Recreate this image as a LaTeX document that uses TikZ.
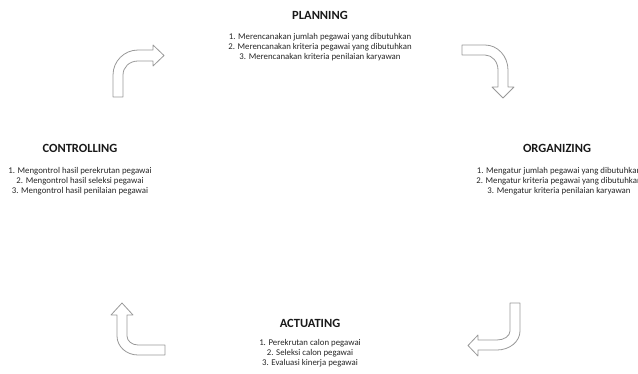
\documentclass[tikz,border=0pt]{standalone}
\usepackage{fontspec}
\setmainfont{Carlito}
\begin{document}
\begin{tikzpicture}[x=1pt,y=-1pt,
  head/.style={font=\fontsize{12.5}{14}\selectfont\bfseries, inner sep=0pt, text=black!90},
  body/.style={font=\fontsize{8.8}{10}\selectfont, align=center, inner sep=0pt, text=black!85},
  bentarrow/.style={draw=black!40, line width=0.8pt, fill=white, line join=round}]
\useasboundingbox (0,0) rectangle (638,373);
% headings and texts
\node[head] (planh) at (320,15) {PLANNING};
\node[body] (planb) at (320,47.5) {1. Merencanakan jumlah pegawai yang dibutuhkan\\2. Merencanakan kriteria pegawai yang dibutuhkan\\3. Merencanakan kriteria penilaian karyawan};
\node[head] (orgh) at (557,148) {ORGANIZING};
\node[body] (orgb) at (559,181) {1. Mengatur jumlah pegawai yang dibutuhkan\\2. Mengatur kriteria pegawai yang dibutuhkan\\3. Mengatur kriteria penilaian karyawan};
\node[head] (acth) at (310,323) {ACTUATING};
\node[body] (actb) at (310,353) {1. Perekrutan calon pegawai\\2. Seleksi calon pegawai\\3. Evaluasi kinerja pegawai};
\node[head] (conh) at (80,148) {CONTROLLING};
\node[body] (conb) at (80,181) {1. Mengontrol hasil perekrutan pegawai\\2. Mengontrol hasil seleksi pegawai\\3. Mengontrol hasil penilaian pegawai};
% arrow top-left
\draw[bentarrow] (113,97) -- (113,75) .. controls (113,61.2) and (124.2,50) .. (138,50)
  -- (153,50) -- (153,45) -- (164,55.5) -- (153,66) -- (153,61) -- (138,61)
  .. controls (129.2,61) and (123,67.3) .. (123,75) -- (123,97) -- cycle;
% arrow top-right
\draw[bentarrow] (462,45) -- (485,45) .. controls (497.7,45) and (508,56.2) .. (508,70)
  -- (508,87) -- (514,87) -- (503,98) -- (492,87) -- (498,87) -- (498,70)
  .. controls (498,61.7) and (492.2,55) .. (485,55) -- (462,55) -- cycle;
% arrow bottom-right
\draw[bentarrow] (520,303) -- (520,331) .. controls (520,341.5) and (509.7,350) .. (497,350)
  -- (478,350) -- (478,356) -- (468,345.5) -- (478,335) -- (478,340) -- (497,340)
  .. controls (504.2,340) and (510,336) .. (510,331) -- (510,303) -- cycle;
% arrow bottom-left
\draw[bentarrow] (165,355) -- (138,355) .. controls (126.4,355) and (117,346.5) .. (117,336)
  -- (117,315) -- (111,315) -- (122,303) -- (133,315) -- (127,315) -- (127,336)
  .. controls (127,341) and (132,345) .. (138,345) -- (165,345) -- cycle;
\end{tikzpicture}
\end{document}
